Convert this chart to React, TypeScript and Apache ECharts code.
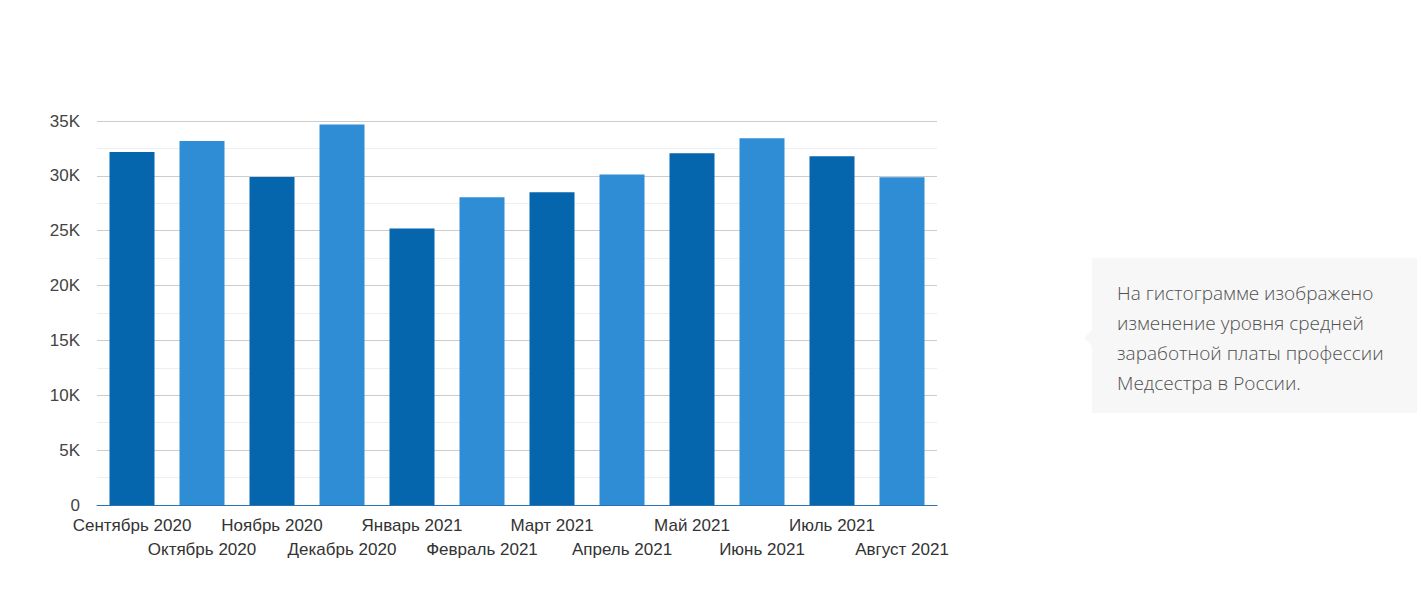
import React, { useEffect, useRef } from "react";
import * as echarts from "echarts";

const categories = [
  "Сентябрь 2020",
  "Октябрь 2020",
  "Ноябрь 2020",
  "Декабрь 2020",
  "Январь 2021",
  "Февраль 2021",
  "Март 2021",
  "Апрель 2021",
  "Май 2021",
  "Июнь 2021",
  "Июль 2021",
  "Август 2021",
];

const salaries = [32180, 33180, 29900, 34670, 25200, 28050, 28500, 30120, 32060, 33420, 31780, 29870];

const barColors = ["#0565ad", "#2f8dd5"];

const noteLines = [
  "На гистограмме изображено",
  "изменение уровня средней",
  "заработной платы профессии",
  "Медсестра в России.",
];

export default function App() {
  const ref = useRef<HTMLDivElement>(null);
  useEffect(() => {
    document.body.style.margin = "0";
    if (!ref.current) return;
    const chart = echarts.init(ref.current, undefined, { renderer: "svg" });
    chart.setOption({
      animation: false,
      grid: { left: 97, right: 484, top: 121, bottom: 105, containLabel: false },
      xAxis: {
        type: "category",
        data: categories,
        axisLine: { lineStyle: { color: "#2a72b5", width: 1 } },
        axisTick: { show: false },
        axisLabel: {
          interval: 0,
          color: "#333",
          fontFamily: "Liberation Sans, Arial, sans-serif",
          fontSize: 17,
          lineHeight: 24,
          margin: 8,
          formatter: (v: string, i: number) => (i % 2 === 1 ? "\n" + v : v),
        },
      },
      yAxis: {
        type: "value",
        min: 0,
        max: 35000,
        interval: 5000,
        axisLine: { show: false },
        axisTick: { show: false },
        axisLabel: {
          color: "#444",
          fontFamily: "Liberation Sans, Arial, sans-serif",
          fontSize: 17,
          margin: 17,
          formatter: (v: number) => (v === 0 ? "0" : v / 1000 + "K"),
        },
        splitLine: { show: true, lineStyle: { color: "#cccccc", width: 1 } },
        minorTick: { show: false, splitNumber: 2 },
        minorSplitLine: { show: true, lineStyle: { color: "#eeeeee", width: 1 } },
      },
      series: [
        {
          type: "bar",
          barWidth: 45,
          data: salaries.map((v, i) => ({
            value: v,
            itemStyle: { color: barColors[i % 2] },
          })),
        },
      ],
      graphic: [
        {
          type: "polygon",
          shape: { points: [[1092, 330], [1084, 338], [1092, 346]] },
          style: { fill: "#f7f7f7" },
        },
        {
          type: "rect",
          shape: { x: 1092, y: 258, width: 325, height: 155 },
          style: { fill: "#f7f7f7" },
        },
        ...noteLines.map((t, i) => ({
          type: "text",
          x: 1117,
          y: 293 + i * 30,
          style: {
            text: t,
            fill: "#505050",
            font: "300 19px 'Open Sans', sans-serif",
            verticalAlign: "middle",
          },
        })),
      ],
    });
    return () => chart.dispose();
  }, []);
  return <div ref={ref} style={{ width: 1421, height: 610 }} />;
}
